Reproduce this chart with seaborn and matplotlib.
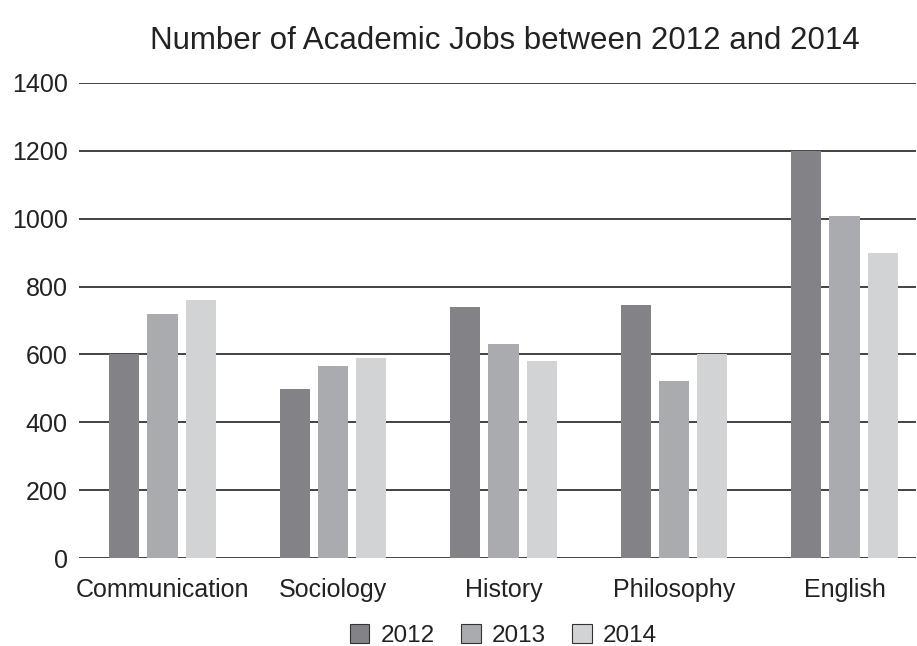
import numpy as np
import pandas as pd
import matplotlib.pyplot as plt
import seaborn as sns
from matplotlib.patches import Patch

fields = ['Communication', 'Sociology', 'History', 'Philosophy', 'English']
years = ['2012', '2013', '2014']
jobs_2012 = [600, 498, 740, 745, 1200]
jobs_2013 = [720, 566, 631, 522, 1008]
jobs_2014 = [760, 590, 581, 600, 900]

colors = ['#838387', '#aaabae', '#d2d3d5']

df = pd.DataFrame({
    'Field': fields * 3,
    'Year': [y for y in years for _ in fields],
    'Jobs': jobs_2012 + jobs_2013 + jobs_2014,
})

sns.set_style('white')
plt.rcParams['font.family'] = ['Liberation Sans', 'DejaVu Sans']
text_color = '#222222'

fig = plt.figure(figsize=(9.17, 6.46), dpi=100)
ax = fig.add_axes([0.0861, 0.1358, 0.9129, 0.7362])

sns.barplot(data=df, x='Field', y='Jobs', hue='Year', palette=colors,
            width=0.67, gap=0.21, saturation=1, linewidth=0, ax=ax,
            legend=False, zorder=3)

ax.set_ylim(0, 1400)
ax.set_xlim(-0.49, 4.42)
ax.set_yticks(np.arange(0, 1401, 200))
ax.yaxis.grid(True, color='#222222', linewidth=1.2, zorder=1)
ax.set_axisbelow(True)
for s in ax.spines.values():
    s.set_visible(False)
ax.tick_params(axis='both', length=0, labelsize=18, labelcolor=text_color)
ax.tick_params(axis='y', pad=8)
ax.tick_params(axis='x', pad=14)
ax.set_xlabel('')
ax.set_ylabel('')

fig.text(0.551, 0.937, 'Number of Academic Jobs between 2012 and 2014',
         ha='center', va='center', fontsize=22.5, color=text_color)

handles = [Patch(facecolor=c, edgecolor='#333333', linewidth=0.8) for c in colors]
fig.legend(handles, years, loc='center', bbox_to_anchor=(0.549, 0.016),
           ncol=3, frameon=False, fontsize=17.5, handlelength=0.8,
           handleheight=0.8, handletextpad=0.45, columnspacing=1.1,
           labelcolor=text_color)

fig.savefig('out.png', dpi=100)
